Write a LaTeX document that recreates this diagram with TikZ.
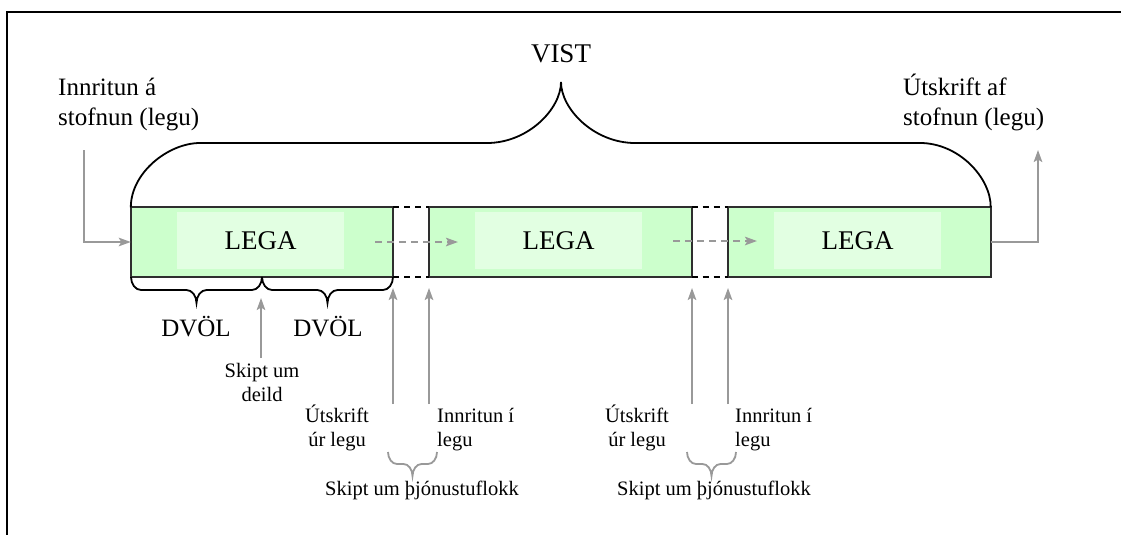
\documentclass[tikz,border=0pt]{standalone}
\usepackage{fontspec}
\setmainfont{Liberation Serif}
\usetikzlibrary{arrows.meta}
\definecolor{legafill}{HTML}{CCFFCC}
\definecolor{legainner}{HTML}{E2FFE2}
\definecolor{arrgray}{HTML}{999999}
\definecolor{boxline}{HTML}{2E2E2E}
% #1 x1, #2 x2, #3 y, #4 half depth, #5 corner radius, #6 style
\newcommand\mybrace[6]{%
  \pgfmathsetmacro\bm{(#1+#2)/2}%
  \draw[#6] (#1,#3) .. controls (#1,#3+0.55*#4) and (#1+0.45*#5,#3+#4) .. (#1+#5,#3+#4)
    -- (\bm-#5,#3+#4) .. controls (\bm-0.45*#5,#3+#4) and (\bm,#3+1.45*#4) .. (\bm,#3+2*#4)
    .. controls (\bm,#3+1.45*#4) and (\bm+0.45*#5,#3+#4) .. (\bm+#5,#3+#4)
    -- (#2-#5,#3+#4) .. controls (#2-0.45*#5,#3+#4) and (#2,#3+0.55*#4) .. (#2,#3);}
\begin{document}
\begin{tikzpicture}[x=1pt,y=-1pt,
  legabox/.style={fill=legafill, minimum width=262, minimum height=69, inner sep=0},
  legainn/.style={fill=legainner, minimum width=167, minimum height=57, inner sep=0, font=\fontsize{27}{32}\selectfont},
  grayarr/.style={draw=arrgray, line width=2, -{Stealth[length=12pt,width=8.5pt,inset=2.5pt]}},
  graydash/.style={grayarr, dash pattern=on 7pt off 5pt},
  gapdash/.style={draw=black, line width=2, dash pattern=on 6pt off 5pt},
  boxedge/.style={draw=boxline, line width=2.2},
  bracestyle/.style={draw=black, line width=1.8},
  graybrace/.style={draw=arrgray, line width=1.8},
  biglbl/.style={font=\fontsize{25}{30}\selectfont, inner sep=0},
  smalllbl/.style={font=\fontsize{20.5}{24.5}\selectfont, inner sep=0}
]
\useasboundingbox (0,0) rectangle (1121,535);
\fill[white] (0,0) rectangle (1121,535);
% frame
\draw[line width=2.5] (7,545) -- (7,12) -- (1130,12);

% boxes
\node[legabox] (b1) at (262,242) {};
\node[legabox] (b2) at (560.5,242) {};
\node[legabox] (b3) at (859.5,242) {};
\node[legainn] (i1) at (260.5,240.5) {LEGA};
\node[legainn] (i2) at (558.5,240.5) {LEGA};
\node[legainn] (i3) at (857.5,240.5) {LEGA};
\draw[boxedge] (b1.north west) rectangle (b1.south east);
\draw[boxedge] (b2.north west) rectangle (b2.south east);
\draw[boxedge] (b3.north west) rectangle (b3.south east);

% gaps
\draw[gapdash] (b1.north east) -- (b2.north west);
\draw[gapdash] (b1.south east) -- (b2.south west);
\draw[gapdash] (b2.north east) -- (b3.north west);
\draw[gapdash] (b2.south east) -- (b3.south west);

% dashed arrows between boxes
\coordinate (d1s) at (375,242);
\coordinate (d1e) at (458,242);
\coordinate (d2s) at (673,241);
\coordinate (d2e) at (757,241);
\draw[graydash] (d1s) -- (d1e);
\draw[graydash] (d2s) -- (d2e);

% entry and exit
\coordinate (inS) at (84,150);
\coordinate (outN) at (1038,150);
\draw[grayarr] (inS) |- (b1.west);
\draw[grayarr] (b3.east) -| (outN);

% VIST brace
\draw[bracestyle] (b1.north west) .. controls (131,172) and (169,143) .. (200,143)
  -- (487,143) .. controls (528,143) and (561,109) .. (561,82)
  .. controls (561,109) and (594,143) .. (635,143)
  -- (920,143) .. controls (959,143) and (991,178) .. (b3.north east);
\node[font=\fontsize{27}{32}\selectfont, inner sep=0, anchor=base] (vist) at (561,63) {VIST};

\node[biglbl, anchor=base west] (inn) at (58,95) {\begin{tabular}[t]{@{}l@{}}Innritun á\\stofnun (legu)\end{tabular}};
\node[biglbl, anchor=base west] (ut) at (903,95) {\begin{tabular}[t]{@{}l@{}}Útskrift af\\stofnun (legu)\end{tabular}};

% DVÖL braces
\mybrace{131}{262}{277}{13}{10}{bracestyle}
\mybrace{262}{393}{277}{13}{10}{bracestyle}
\node[biglbl, anchor=base] (dv1) at (196,336) {DVÖL};
\node[biglbl, anchor=base] (dv2) at (328,336) {DVÖL};

% skipt um deild
\coordinate (sdS) at (261,358);
\coordinate (sdE) at (261,298);
\draw[grayarr] (sdS) -- (sdE);
\node[smalllbl, anchor=base] (sd) at (262,377) {\begin{tabular}[t]{@{}c@{}}Skipt um\\deild\end{tabular}};

% gap arrows
\coordinate (g1a) at (393,404); \coordinate (g1b) at (393,288);
\coordinate (g2a) at (429,404); \coordinate (g2b) at (429,288);
\coordinate (g3a) at (692,404); \coordinate (g3b) at (692,288);
\coordinate (g4a) at (728,404); \coordinate (g4b) at (728,288);
\draw[grayarr] (g1a) -- (g1b);
\draw[grayarr] (g2a) -- (g2b);
\draw[grayarr] (g3a) -- (g3b);
\draw[grayarr] (g4a) -- (g4b);

\node[smalllbl, anchor=base] (ut1) at (337,422) {\begin{tabular}[t]{@{}c@{}}Útskrift\\úr legu\end{tabular}};
\node[smalllbl, anchor=base west] (in1) at (437,422) {\begin{tabular}[t]{@{}l@{}}Innritun í\\legu\end{tabular}};
\node[smalllbl, anchor=base] (ut2) at (637,422) {\begin{tabular}[t]{@{}c@{}}Útskrift\\úr legu\end{tabular}};
\node[smalllbl, anchor=base west] (in2) at (735,422) {\begin{tabular}[t]{@{}l@{}}Innritun í\\legu\end{tabular}};

\mybrace{388}{437}{452}{12}{9}{graybrace}
\mybrace{687}{736}{452}{12}{9}{graybrace}
\node[smalllbl, anchor=base] (sk1) at (422,495) {Skipt um þjónustuflokk};
\node[smalllbl, anchor=base] (sk2) at (714,495) {Skipt um þjónustuflokk};
\end{tikzpicture}
\end{document}
